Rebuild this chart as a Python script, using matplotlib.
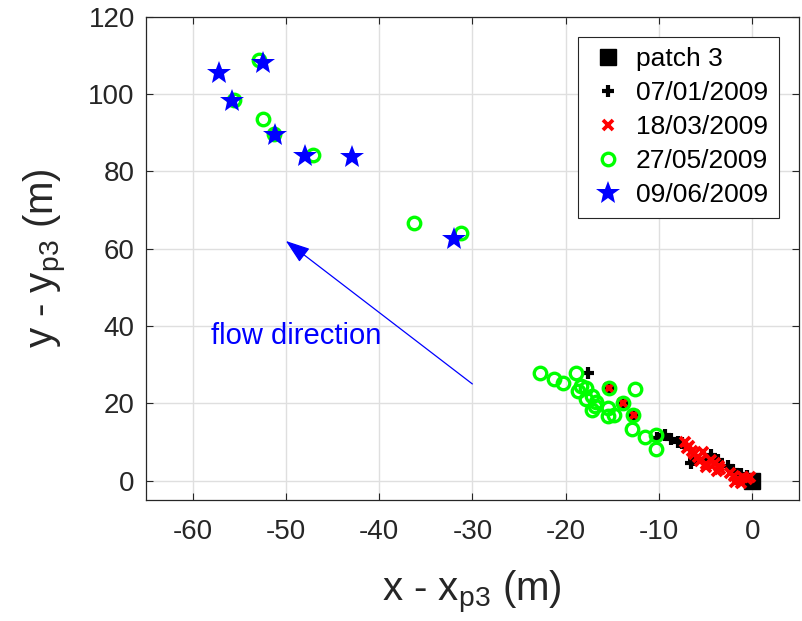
import numpy as np
import matplotlib
matplotlib.use('Agg')
import matplotlib.pyplot as plt

plt.rcParams['font.family'] = ['Liberation Sans', 'DejaVu Sans']
plt.rcParams['mathtext.fontset'] = 'custom'
plt.rcParams['mathtext.rm'] = 'Liberation Sans'
plt.rcParams['mathtext.it'] = 'Liberation Sans'
plt.rcParams['axes.unicode_minus'] = False

DARK = '#262626'

# positions relative to patch 3 (m)
patch_x = [0.0]
patch_y = [0.0]

jan_x = [-17.6, -15.3, -13.8, -12.7, -10.2, -9.3, -8.7, -8.0, -7.5, -6.6,
         -6.2, -5.0, -4.4, -3.7, -2.6, -2.1, -1.2, -0.5, 0.3, -0.2]
jan_y = [27.9, 23.9, 20.0, 17.0, 11.0, 11.8, 10.8, 10.1, 9.6, 4.6,
         5.3, 5.6, 6.6, 5.2, 3.7, 2.7, 1.6, 1.2, 0.4, -0.4]

mar_x = [-15.3, -13.8, -12.7, -7.2, -6.8, -7.0, -6.5, -6.2, -5.8, -5.3,
         -5.6, -5.0, -4.9, -4.4, -4.0, -3.6, -3.4, -3.8, -2.4, -2.0,
         -1.5, -1.8, -1.0, -0.6, -0.2, -1.2]
mar_y = [23.9, 20.0, 17.0, 10.0, 9.0, 8.4, 7.6, 6.8, 6.2, 7.4,
         5.0, 4.3, 3.5, 5.3, 4.6, 3.8, 3.0, 2.6, 2.0, 1.2,
         0.4, -0.3, 0.8, 0.4, 0.9, -0.6]

may_x = [-52.9, -55.6, -52.4, -51.3, -47.1, -36.3, -31.2,
         -22.7, -21.2, -20.3, -18.9, -18.7, -17.8, -18.4, -17.8, -17.2,
         -16.7, -17.2, -16.9, -15.5, -15.5, -14.8, -15.3, -13.9, -12.6,
         -12.8, -12.9, -11.5, -10.3, -10.3]
may_y = [108.7, 98.5, 93.6, 89.6, 84.3, 66.6, 64.0,
         27.8, 26.2, 25.3, 27.8, 23.3, 23.9, 24.4, 21.1, 21.9,
         20.4, 18.3, 19.3, 18.7, 16.6, 17.0, 23.9, 20.0, 23.7,
         17.0, 13.4, 11.3, 11.8, 8.1]

jun_x = [-57.2, -52.5, -55.8, -51.2, -48.0, -42.9, -32.0]
jun_y = [105.4, 108.0, 98.3, 89.5, 84.1, 83.6, 62.6]

fig = plt.figure(figsize=(8.02, 6.21), dpi=100)
ax = fig.add_axes([0.182, 0.195, 0.814, 0.778])

ax.plot(patch_x, patch_y, 's', color='k', markersize=11, label='patch 3', zorder=3)
ax.plot(jan_x, jan_y, '+', color='k', markersize=8, mew=3, label='07/01/2009', zorder=3)
ax.plot(mar_x, mar_y, 'x', color='r', markersize=6.5, mew=2.7, label='18/03/2009', zorder=3)
ax.plot(may_x, may_y, 'o', mfc='none', mec=(0, 1, 0), markersize=9, mew=2.4,
        label='27/05/2009', zorder=3)
ax.plot(jun_x, jun_y, '*', color=(0, 0, 1), markersize=18, mew=0, label='09/06/2009', zorder=3)

ax.annotate('', xy=(-50, 62), xytext=(-30, 25),
            arrowprops=dict(arrowstyle='-|>,head_length=1.0,head_width=0.35',
                            color='b', lw=0.9, mutation_scale=15, shrinkA=0, shrinkB=0))
ax.text(-58, 37.3, 'flow direction', color='b', fontsize=21, va='center', ha='left')

ax.set_xlim(-65, 5)
ax.set_ylim(-5, 120)
ax.set_xticks(np.arange(-60, 1, 10))
ax.set_yticks(np.arange(0, 121, 20))
ax.grid(True, color='#dfdfdf', linewidth=1.0)
ax.set_axisbelow(True)

ax.tick_params(direction='in', length=5, width=0.8, colors=DARK, labelsize=20,
               top=True, right=True, pad=8)
ax.tick_params(axis='x', pad=14)
for sp in ax.spines.values():
    sp.set_color(DARK)
    sp.set_linewidth(0.9)

ax.set_xlabel(r'x - x$_{\mathrm{p3}}$ (m)', fontsize=29, color=DARK, labelpad=17)
ax.set_ylabel(r'y - y$_{\mathrm{p3}}$ (m)', fontsize=29, color=DARK, labelpad=14)

leg = ax.legend(loc='upper right', bbox_to_anchor=(0.969, 0.9586), borderaxespad=0,
                fontsize=19, numpoints=1, handlelength=1.5, handletextpad=0.3,
                labelspacing=0.38, borderpad=0.4, fancybox=False, framealpha=1)
leg.get_frame().set_edgecolor(DARK)
leg.get_frame().set_linewidth(0.8)

fig.savefig('out.png', dpi=100)
